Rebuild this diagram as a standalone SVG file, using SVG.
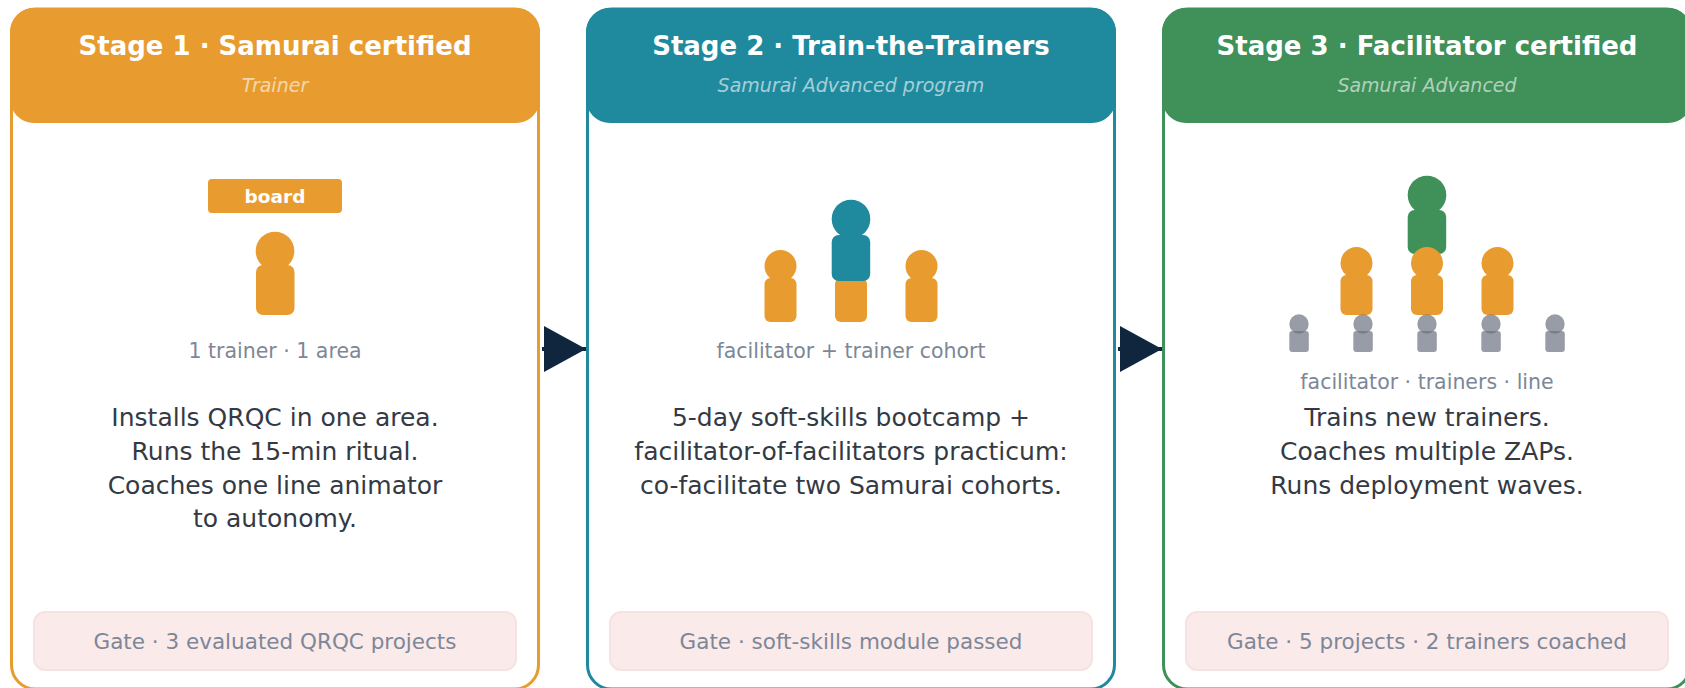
<svg xmlns="http://www.w3.org/2000/svg" width="1685" height="688" viewBox="0 0 1685 688">
<style>
text{font-family:"DejaVu Sans",sans-serif;text-anchor:middle}
.card{fill:#fff;stroke-width:3}
.title{font-size:26px;font-weight:700;fill:#fff}
.sub{font-size:19px;font-style:italic;fill:#fff;fill-opacity:.6}
.cap{font-size:20.5px;fill:#7d8798}
.body{font-size:25px;fill:#343a44}
.gate{fill:#faeaea;stroke:#f6e2e3;stroke-width:2}
.gt{font-size:21.5px;fill:#7d8798}
.o{fill:#e89c2f}.t{fill:#1f8a9e}.g{fill:#3f9059}.y{fill:#6b7280;fill-opacity:.7}
.lnk{stroke:#10263f;stroke-width:4;fill:none;marker-end:url(#ah)}
</style>
<defs><marker id="ah" markerUnits="userSpaceOnUse" markerWidth="44" markerHeight="48" refX="42" refY="23" orient="auto"><path d="M0 0L42 23L0 46Z" fill="#10263f"/></marker></defs>
<rect width="1685" height="688" fill="#fff"/>
<g id="stage1">
<rect class="card" x="11.500" y="9" width="527" height="680" rx="24" stroke="#e89c2f"/>
<rect class="o" x="10" y="8" width="530" height="115" rx="24"/>
<text class="title" x="275" y="55">Stage 1 · Samurai certified</text>
<text class="sub" x="275" y="92">Trainer</text>
<rect class="o" x="208" y="179" width="134" height="34" rx="4"/>
<text x="275" y="203" font-size="18.500" font-weight="700" fill="#fff">board</text>
<circle class="o" cx="275" cy="251" r="19.300"/><rect class="o" x="256" y="265" width="38.500" height="50" rx="7"/>
<text class="cap" x="275" y="358">1 trainer · 1 area</text>
<text class="body" x="275" y="426">Installs QRQC in one area.</text>
<text class="body" x="275" y="459.500">Runs the 15-min ritual.</text>
<text class="body" x="275" y="494">Coaches one line animator</text>
<text class="body" x="275" y="527">to autonomy.</text>
<rect class="gate" x="34" y="612" width="482" height="58" rx="11"/>
<text class="gt" x="275" y="649">Gate · 3 evaluated QRQC projects</text>
</g>
<g id="stage2">
<rect class="card" x="587.500" y="9" width="527" height="680" rx="24" stroke="#1f8a9e"/>
<rect class="t" x="586" y="8" width="530" height="115" rx="24"/>
<text class="title" x="851" y="55">Stage 2 · Train-the-Trainers</text>
<text class="sub" x="851" y="92">Samurai Advanced program</text>
<circle class="o" cx="780.500" cy="266" r="16"/><rect class="o" x="764.500" y="278" width="32" height="44" rx="6"/>
<circle class="o" cx="851" cy="266" r="16"/><rect class="o" x="835" y="278" width="32" height="44" rx="6"/>
<circle class="o" cx="921.500" cy="266" r="16"/><rect class="o" x="905.500" y="278" width="32" height="44" rx="6"/>
<circle class="t" cx="851" cy="219" r="19.300"/><rect class="t" x="831.700" y="235" width="38.500" height="46" rx="7"/>
<text class="cap" x="851" y="358">facilitator + trainer cohort</text>
<text class="body" x="851" y="426">5-day soft-skills bootcamp +</text>
<text class="body" x="851" y="459.500">facilitator-of-facilitators practicum:</text>
<text class="body" x="851" y="494">co-facilitate two Samurai cohorts.</text>
<rect class="gate" x="610" y="612" width="482" height="58" rx="11"/>
<text class="gt" x="851" y="649">Gate · soft-skills module passed</text>
</g>
<g id="stage3">
<rect class="card" x="1163.500" y="9" width="527" height="680" rx="24" stroke="#3f9059"/>
<rect class="g" x="1162" y="8" width="530" height="115" rx="24"/>
<text class="title" x="1427" y="55">Stage 3 · Facilitator certified</text>
<text class="sub" x="1427" y="92">Samurai Advanced</text>
<circle class="g" cx="1427" cy="195" r="19.300"/><rect class="g" x="1407.700" y="210" width="38.500" height="44" rx="7"/>
<circle class="o" cx="1356.500" cy="263" r="16"/><rect class="o" x="1340.500" y="275" width="32" height="40" rx="6"/>
<circle class="o" cx="1427" cy="263" r="16"/><rect class="o" x="1411" y="275" width="32" height="40" rx="6"/>
<circle class="o" cx="1497.500" cy="263" r="16"/><rect class="o" x="1481.500" y="275" width="32" height="40" rx="6"/>
<circle class="y" cx="1299" cy="324" r="9.700"/><rect class="y" x="1289.300" y="331" width="19.500" height="21" rx="3"/>
<circle class="y" cx="1363" cy="324" r="9.700"/><rect class="y" x="1353.300" y="331" width="19.500" height="21" rx="3"/>
<circle class="y" cx="1427" cy="324" r="9.700"/><rect class="y" x="1417.300" y="331" width="19.500" height="21" rx="3"/>
<circle class="y" cx="1491" cy="324" r="9.700"/><rect class="y" x="1481.300" y="331" width="19.500" height="21" rx="3"/>
<circle class="y" cx="1555" cy="324" r="9.700"/><rect class="y" x="1545.300" y="331" width="19.500" height="21" rx="3"/>
<text class="cap" x="1427" y="389">facilitator · trainers · line</text>
<text class="body" x="1427" y="426">Trains new trainers.</text>
<text class="body" x="1427" y="459.500">Coaches multiple ZAPs.</text>
<text class="body" x="1427" y="494">Runs deployment waves.</text>
<rect class="gate" x="1186" y="612" width="482" height="58" rx="11"/>
<text class="gt" x="1427" y="649">Gate · 5 projects · 2 trainers coached</text>
</g>
<g id="connectors">
<path class="lnk" d="M542 349H586"/>
<path class="lnk" d="M1118 349H1162"/>
</g>
</svg>
